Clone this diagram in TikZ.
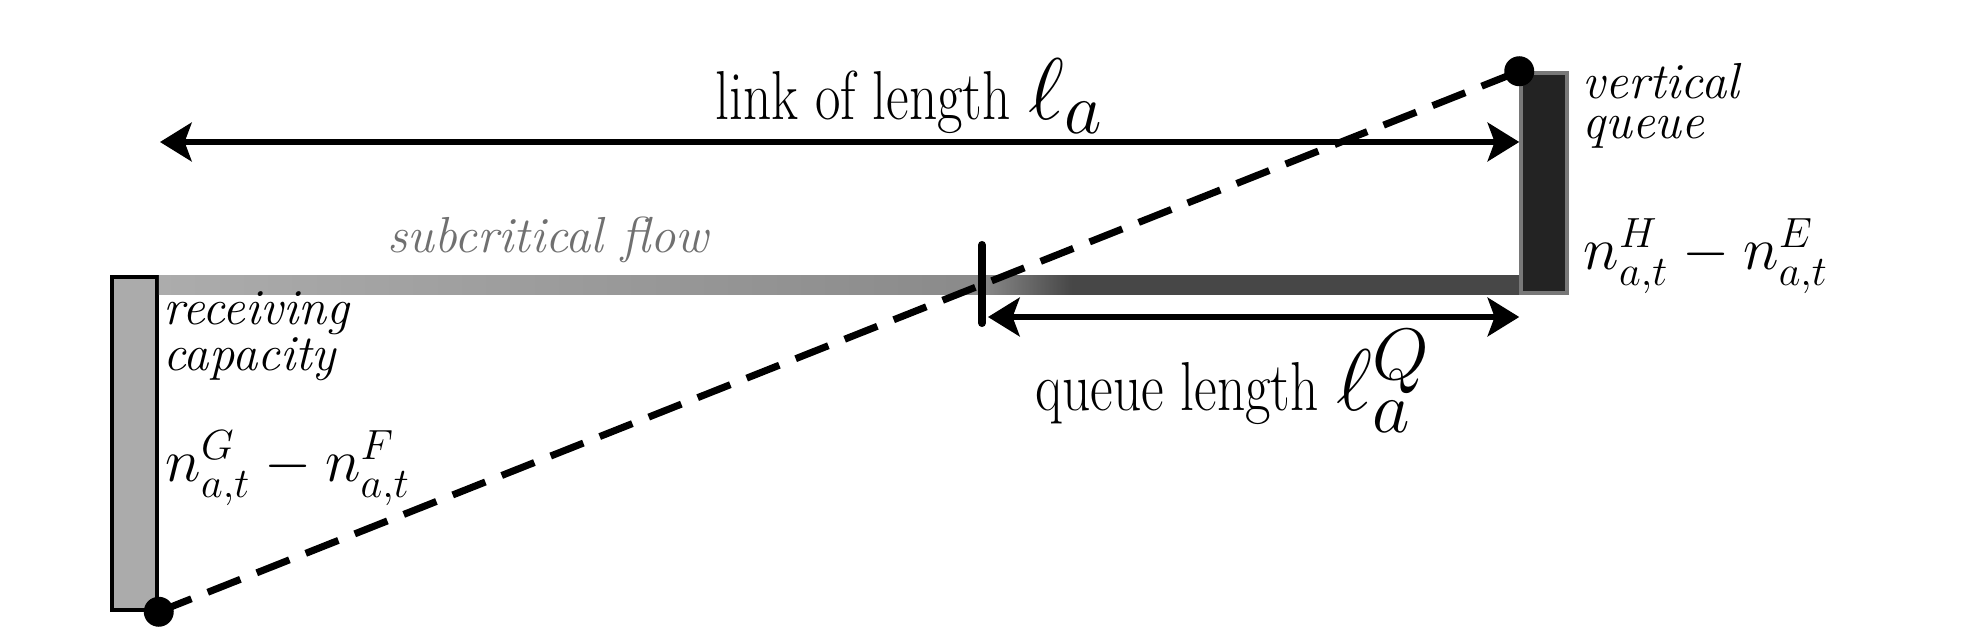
\documentclass[tikz,border=0pt]{standalone}
\usepackage{graphicx}
\usetikzlibrary{arrows.meta, positioning, calc}
\definecolor{colRecv}{RGB}{171,171,171}
\definecolor{colVert}{RGB}{35,35,35}
\definecolor{colVertBorder}{RGB}{120,120,120}
\definecolor{colFree}{RGB}{172,172,172}
\definecolor{colFront}{RGB}{138,138,138}
\definecolor{colJam}{RGB}{71,71,71}
\definecolor{colSub}{RGB}{112,112,112}
\newcommand{\condensed}[1]{\scalebox{0.8}[1]{#1}}
\tikzset{
  barBox/.style={
    rectangle, inner sep=0pt, line width=1pt
  },
  recvBar/.style={barBox, draw=black, fill=colRecv, minimum width=0.45cm, minimum height=3.33cm},
  vertBar/.style={barBox, draw=colVertBorder, fill=colVert, minimum width=0.46cm, minimum height=2.2cm},
  endDot/.style={circle, fill=black, inner sep=0pt, minimum size=0.3cm},
  dimArrow/.style={
    {Stealth[length=9pt, width=11pt, inset=2pt]}-{Stealth[length=9pt, width=11pt, inset=2pt]},
    line width=1.5pt
  },
  wave/.style={dash pattern=on 10pt off 5pt, line width=2pt},
  frontMark/.style={line width=2.3pt, line cap=round},
  txt/.style={inner sep=0pt, anchor=base west, font=\fontsize{19.7}{22}\selectfont},
  note/.style={inner sep=0pt, anchor=base west, align=left, font=\fontsize{14.4}{11.6}\selectfont\itshape},
  expr/.style={inner sep=0pt, anchor=base west, font=\LARGE}
}

\begin{document}
\begin{tikzpicture}

  \useasboundingbox (0,0) rectangle (19.88,6.29);

  \node[recvBar] (recv) at (1.345,1.855) {};
  \node[vertBar] (vert) at (15.44,4.46) {};
  \coordinate (front) at (9.82,3.44);

  % link body: free flow -> queue
  \shade[left color=colFree, right color=colFront] (recv.north east) rectangle (front |- vert.south);
  \shade[left color=colFront, right color=colJam] (front |- recv.north) rectangle ($(front |- vert.south)+(0.9,0)$);
  \fill[colJam] ($(front |- recv.north)+(0.9,0)$) rectangle (vert.south west);

  % link length
  \coordinate (linkStart) at (1.60,4.87);
  \draw[dimArrow] (linkStart) -- (linkStart -| vert.west);

  % queue length
  \coordinate (queueStart) at (9.88,3.12);
  \draw[dimArrow] (queueStart) -- (queueStart -| vert.west);

  \node[endDot] (low) at (recv.south east) {};
  \node[endDot] (high) at (vert.north west) {};

  % shockwave line
  \draw[wave] (low.center) -- (high.center);

  % queue front
  \draw[frontMark] ($(front)+(0,0.40)$) -- ($(front)+(0,-0.38)$);

  \node[txt] (linkLabel) at (7.15,5.09) {\condensed{link of length}\hspace{5pt}{\Huge$\ell_a$}};
  \node[txt] (queueLabel) at (10.35,2.18) {\condensed{queue length}\hspace{5pt}{\Huge$\ell_a^Q$}};
  \node[note, text=colSub] (subLabel) at (3.87,3.76) {subcritical flow};

  \node[note] (recvLabel) at (1.63,2.58) {receiving\\capacity};
  \node[expr, font=\fontsize{18.8}{22}\selectfont] (recvExpr) at (1.65,1.47) {$n^G_{a,t} - n^F_{a,t}$};

  \node[note] (vertLabel) at (15.82,4.90) {vertical\\queue};
  \node[expr, font=\fontsize{16.6}{20}\selectfont] (vertExpr) at (15.83,3.59) {$n^H_{a,t} - n^E_{a,t}$};

\end{tikzpicture}
\end{document}
